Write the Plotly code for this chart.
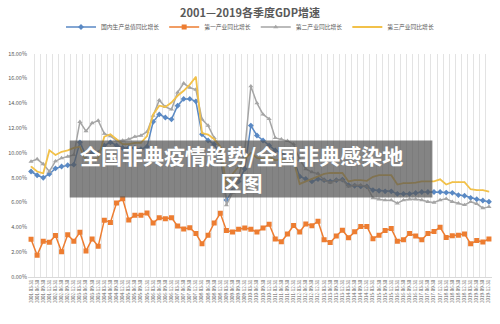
import plotly.graph_objects as go

years = list(range(2001, 2020))
quarter_ends = ["03-31", "06-30", "09-30", "12-31"]
categories = [f"{y}-{q}" for y in years for q in quarter_ends]

gdp = [8.5, 8.2, 8.0, 8.3, 8.75, 8.9, 9.0, 9.05, 10.85, 9.8, 10.0, 10.0,
       10.6, 10.85, 10.6, 10.4, 10.4, 10.4, 10.3, 10.5, 12.5, 13.1, 12.85, 12.7,
       13.8, 14.35, 14.35, 14.15, 11.5, 11.0, 10.7, 9.8, 6.2, 6.95, 7.7, 8.7,
       12.2, 11.4, 11.0, 10.6, 10.2, 10.0, 9.7, 9.5, 8.1, 7.9, 7.7, 7.9,
       7.8, 7.7, 7.8, 7.85, 7.4, 7.35, 7.3, 7.3, 7.0, 6.95, 6.9, 6.9,
       6.7, 6.7, 6.7, 6.77, 6.85, 6.85, 6.85, 6.85, 6.8, 6.78, 6.6, 6.55,
       6.38, 6.26, 6.16, 6.06]

primary = [3.04, 1.76, 2.89, 2.79, 3.35, 2.04, 3.40, 2.89, 3.6, 2.09, 3.07, 2.47,
           4.58, 4.4, 5.96, 6.3, 4.6, 4.98, 4.98, 5.15, 4.35, 4.78, 4.7, 4.78,
           4.1, 3.87, 3.97, 3.5, 2.67, 3.37, 4.35, 5.13, 3.75, 3.62, 3.85, 3.95,
           3.85, 3.62, 3.95, 4.25, 3.07, 2.84, 3.47, 4.15, 3.62, 4.28, 4.13, 4.5,
           3.0, 2.77, 3.3, 3.77, 3.17, 3.65, 4.07, 4.07, 3.09, 3.37, 3.75, 3.9,
           2.89, 3.0, 3.5, 3.3, 3.0, 3.5, 3.67, 4.0, 3.19, 3.32, 3.37, 3.47,
           2.67, 2.94, 2.82, 3.07]

secondary = [9.3, 9.5, 9.1, 8.5, 9.33, 9.58, 9.7, 9.83, 12.5, 11.75, 12.4, 12.6,
             11.55, 11.35, 11.0, 11.0, 11.1, 11.3, 11.4, 11.7, 13.0, 14.25, 13.7, 13.5,
             14.87, 15.6, 15.25, 15.1, 12.7, 12.2, 11.2, 10.4, 5.8, 6.8, 8.0, 10.2,
             15.37, 14.0, 13.1, 12.73, 11.2, 11.1, 10.97, 10.7, 9.46, 8.7, 8.45, 8.33,
             7.8, 7.6, 7.8, 7.8, 7.3, 7.4, 7.4, 7.3, 6.36, 6.26, 6.19, 6.19,
             5.94, 6.19, 6.26, 6.26, 6.2, 6.06, 6.0, 6.2, 6.3, 6.06, 5.94, 5.81,
             6.06, 5.9, 5.55, 5.65]

tertiary = [8.9, 8.5, 8.35, 10.2, 9.83, 10.09, 10.2, 10.4, 10.5, 9.3, 9.4, 9.6,
            11.3, 11.5, 11.1, 10.7, 10.7, 10.8, 10.8, 11.35, 13.1, 13.8, 13.7, 14.05,
            14.6, 15.0, 15.5, 16.13, 11.6, 11.47, 11.1, 10.5, 7.4, 8.3, 8.9, 9.5,
            10.0, 9.6, 9.5, 9.7, 9.4, 9.5, 9.3, 9.4, 7.5, 7.7, 7.9, 8.1,
            8.3, 8.38, 8.4, 8.38, 7.7, 7.8, 7.8, 7.75, 8.07, 8.2, 8.2, 8.2,
            7.45, 7.57, 7.57, 7.6, 7.7, 7.7, 7.7, 7.87, 7.45, 7.65, 7.65, 7.65,
            7.07, 7.0, 7.0, 6.87]

series_names = ["国内生产总值同比增长", "第一产业同比增长", "第二产业同比增长", "第三产业同比增长"]
y_ticks = [0, 2, 4, 6, 8, 10, 12, 14, 16, 18]

W, H = 500, 324
L, R, T, B = 25, 8, 38, 47
pw, ph = W - L - R, H - T - B

def px_x(p):
    return (p - L) / pw

def px_y(p):
    return (H - B - p) / ph

fig = go.Figure()
styles = [
    (gdp, "#5A89C4", dict(symbol="diamond", size=4.5), 1.5),
    (primary, "#ED7D31", dict(symbol="square", size=5), 1.5),
    (secondary, "#A5A5A5", dict(symbol="triangle-up", size=4.5), 1.5),
    (tertiary, "#F2C14A", dict(symbol="circle", size=1), 1.8),
]
for name, (vals, col, mk, lw) in zip(series_names, styles):
    fig.add_trace(go.Scatter(
        x=categories, y=vals, name=name, mode="lines+markers",
        line=dict(color=col, width=lw),
        marker=dict(color=col, **mk),
    ))

fig.update_layout(
    width=W, height=H,
    margin=dict(l=L, r=R, t=T, b=B),
    paper_bgcolor="white", plot_bgcolor="white",
    font=dict(family="Noto Sans CJK SC", color="#595959"),
    title=dict(text="<b>2001—2019各季度GDP增速</b>", x=0.5, xanchor="center",
               y=1 - 13 / H, yanchor="middle", yref="container",
               font=dict(size=11, color="#595959", family="Noto Sans CJK SC")),
    legend=dict(orientation="h", x=0.5, xanchor="center", xref="container",
                y=1 - 27 / H, yanchor="middle", yref="container",
                font=dict(size=5.8, color="#595959"), itemwidth=30,
                bgcolor="rgba(0,0,0,0)"),
    showlegend=True,
)
fig.update_xaxes(
    type="category", tickmode="linear", dtick=1, tickson="boundaries",
    tickangle=-90, tickfont=dict(size=4.5, color="#595959"),
    showgrid=True, gridcolor="#E3E3E3", gridwidth=1,
    showline=True, linecolor="#D9D9D9", ticks="",
    range=[-0.5, len(categories) - 0.5],
)
fig.update_yaxes(
    range=[0, 18], tickvals=y_ticks, ticktext=[f"{v:.2f}%" for v in y_ticks],
    tickfont=dict(size=5.5, color="#595959"), showgrid=False, zeroline=False,
    showline=False, ticks="",
)

# overlay banner present in the reference image
fig.add_shape(type="rect", xref="paper", yref="paper",
              x0=px_x(67), x1=px_x(432), y0=px_y(192), y1=px_y(131),
              fillcolor="rgba(85,85,85,0.72)", line=dict(width=0), layer="above")
fig.add_annotation(xref="paper", yref="paper", x=px_x(240), y=px_y(161),
                   xanchor="center", yanchor="middle", showarrow=False, align="center",
                   text="<b>全国非典疫情趋势/全国非典感染地<br>区图</b>",
                   font=dict(size=21, color="white", family="Noto Sans CJK SC"))

fig.write_html("out.html")
